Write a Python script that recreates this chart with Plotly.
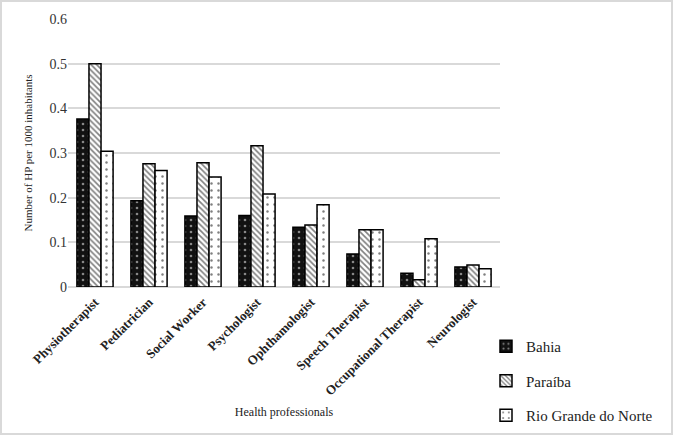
import plotly.graph_objects as go

categories = ["Physiotherapist", "Pediatrician", "Social Worker", "Psychologist",
              "Ophthamologist", "Speech Therapist", "Occupational Therapist", "Neurologist"]
bahia = [0.376, 0.193, 0.159, 0.160, 0.134, 0.074, 0.031, 0.045]
paraiba = [0.500, 0.276, 0.278, 0.316, 0.139, 0.128, 0.016, 0.049]
rgn = [0.304, 0.261, 0.246, 0.208, 0.184, 0.128, 0.108, 0.041]
series_names = ["Bahia", "Paraíba", "Rio Grande do Norte"]
yticks = [0, 0.1, 0.2, 0.3, 0.4, 0.5, 0.6]
ytick_text = ["0", "0.1", "0.2", "0.3", "0.4", "0.5", "0.6"]

FONT = "Liberation Serif"

styles = [
    dict(color="#111111", pattern=dict(shape=".", fgcolor="white", bgcolor="#111111", size=6, solidity=0.15)),
    dict(color="white", pattern=dict(shape="\\", fgcolor="black", bgcolor="white", size=4, solidity=0.4)),
    dict(color="white", pattern=dict(shape=".", fgcolor="black", bgcolor="white", size=7, solidity=0.1)),
]

fig = go.Figure()
for i, (name, vals) in enumerate(zip(series_names, [bahia, paraiba, rgn])):
    st = styles[i]
    fig.add_trace(go.Bar(
        x=categories, y=vals, name=name, legendgroup=name,
        marker=dict(color=st["color"], pattern=st["pattern"],
                    line=dict(color="black", width=1.5)),
    ))

W, H = 675, 437
L, R, T, B = 68, 175, 19, 150
PW, PH = W - L - R, H - T - B

fig.update_layout(
    width=W, height=H,
    margin=dict(l=L, r=R, t=T, b=B, autoexpand=False),
    paper_bgcolor="white", plot_bgcolor="white",
    barmode="group", bargap=0.33, bargroupgap=0,
    font=dict(family=FONT, color="#222222"),
    legend=dict(x=(486 - L) / PW, y=-(330 - (T + PH)) / PH, xanchor="left", yanchor="top",
                font=dict(family=FONT, size=15, color="#222222"),
                tracegroupgap=12, itemwidth=30, bgcolor="rgba(0,0,0,0)"),
    xaxis=dict(
        automargin=False,
        tickangle=-45,
        ticklabelstandoff=4,
        tickfont=dict(family=FONT, size=13, color="#222222", weight="bold"),
        title=dict(text="Health professionals", font=dict(family=FONT, size=12, color="#222222"), standoff=10),
        showline=False, ticks="",
    ),
    yaxis=dict(
        automargin=False,
        range=[0, 0.6],
        tickvals=yticks, ticktext=ytick_text,
        tickfont=dict(family=FONT, size=14, color="#333333"),
        gridcolor="#d9d9d9", gridwidth=1.5,
        zeroline=True, zerolinecolor="#d9d9d9", zerolinewidth=1.5,
        title=dict(text="Number of HP per 1000 inhabitants", font=dict(family=FONT, size=11, color="#222222"), standoff=14),
        showline=False, ticks="",
    ),
    shapes=[dict(type="rect", xref="paper", yref="paper",
                 x0=-(L - 1) / PW, x1=1 + (R - 3) / PW, y0=-(B - 3) / PH, y1=1 + (T - 1) / PH,
                 line=dict(color="#d9d9d9", width=2), fillcolor="rgba(0,0,0,0)")],
)

post = (
    "document.body.style.margin='0';document.body.style.overflow='hidden';"
    "var gd=document.getElementById('{plot_id}');"
    "function fixLegendFont(){document.querySelectorAll('.legendtext').forEach(function(e){"
    "e.style.setProperty('font-family',\"'Liberation Serif', serif\",'important');});}"
    "if(gd&&gd.on){gd.on('plotly_afterplot',fixLegendFont);}"
    "fixLegendFont();setTimeout(fixLegendFont,0);setTimeout(fixLegendFont,200);"
)
fig.write_html("out.html", config={"displayModeBar": False}, post_script=post)
